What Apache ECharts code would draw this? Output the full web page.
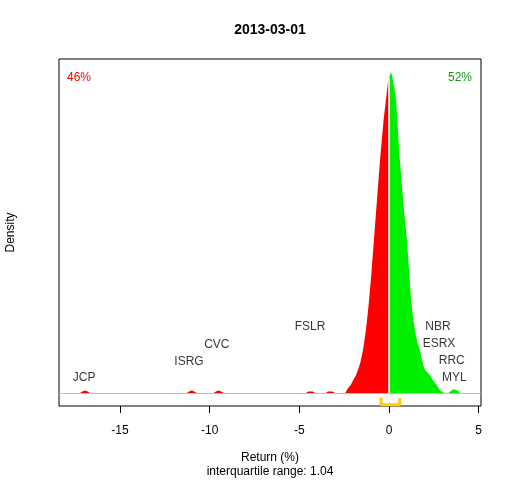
<!DOCTYPE html>
<html>
<head>
<meta charset="utf-8">
<title>2013-03-01</title>
<script src="https://cdn.jsdelivr.net/npm/echarts@6/dist/echarts.min.js"></script>
<style>
  html, body { margin: 0; padding: 0; background: #fff; }
  #main { width: 512px; height: 480px; }
</style>
</head>
<body>
<div id="main"></div>
<script>
// returns (%) and density (scaled so the peak is 1)
var redReturns = [-17.25, -17.1, -16.95, -16.8, -16.65,
  -11.3, -11.15, -11.0, -10.85, -10.7,
  -9.8, -9.65, -9.5, -9.35, -9.2,
  -4.65, -4.5, -4.4, -4.25, -4.1,
  -3.55, -3.4, -3.3, -3.15, -3.0,
  -2.45, -2.35, -2.25, -2.13, -2.0, -1.84, -1.73, -1.6, -1.45, -1.3, -1.2, -1.11, -1.0,
  -0.84, -0.7, -0.55, -0.45, -0.3, -0.17, -0.06, 0];
var redDensity = [0, 0.005, 0.008, 0.005, 0,
  0, 0.005, 0.008, 0.005, 0,
  0, 0.005, 0.008, 0.005, 0,
  0, 0.005, 0.008, 0.005, 0,
  0, 0.005, 0.008, 0.005, 0,
  0, 0.009, 0.018, 0.025, 0.040, 0.056, 0.072, 0.095, 0.134, 0.19, 0.24, 0.29, 0.36,
  0.477, 0.58, 0.69, 0.757, 0.85, 0.913, 0.965, 0.98];

var greenReturns = [0, 0.11, 0.2, 0.3, 0.39, 0.48, 0.56, 0.7, 0.85, 1.0, 1.12, 1.23, 1.35, 1.5, 1.6,
  1.73, 1.85, 1.95, 2.02, 2.15, 2.29, 2.45, 2.66, 2.84, 2.95, 3.1,
  3.3, 3.45, 3.62, 3.8, 3.96, 4.05];
var greenDensity = [0.98, 1.0, 0.98, 0.95, 0.913, 0.84, 0.757, 0.66, 0.56, 0.477, 0.38, 0.29, 0.23, 0.18, 0.155,
  0.134, 0.10, 0.08, 0.072, 0.064, 0.056, 0.040, 0.025, 0.009, 0.003, 0,
  0, 0.007, 0.012, 0.008, 0.001, 0];

// tickers of the outliers, where their names stand
var tickerNames = ['JCP', 'ISRG', 'CVC', 'FSLR', 'NBR', 'ESRX', 'RRC', 'MYL'];
var tickerReturns = [-17.0, -11.15, -9.6, -4.4, 2.73, 2.79, 3.5, 3.65];
var tickerLevels = [0.047, 0.097, 0.150, 0.206, 0.206, 0.153, 0.100, 0.047];

var xTicks = [-15, -10, -5, 0, 5];
var iqrLow = -0.44;
var iqrHigh = 0.60;
var iqrRange = 1.04;
var shareDown = '46%';
var shareUp = '52%';
var medianDensity = 0.98;

var font = "'Liberation Sans', Arial, sans-serif";

function pairs(xs, ys) {
  var res = [];
  for (var i = 0; i < xs.length; i++) {
    res.push([xs[i], ys[i]]);
  }
  return res;
}

var chart = echarts.init(document.getElementById('main'), null, { renderer: 'canvas' });

var option = {
  animation: false,
  backgroundColor: '#fff',
  title: {
    text: '2013-03-01',
    left: 270,
    textAlign: 'center',
    top: 23,
    padding: 0,
    textStyle: { fontFamily: font, fontSize: 14, fontWeight: 'bold', color: '#000' }
  },
  grid: {
    show: true,
    left: 59,
    right: 31,
    top: 59,
    bottom: 74,
    containLabel: false,
    outerBoundsMode: 'none',
    borderColor: '#000',
    borderWidth: 1
  },
  xAxis: {
    type: 'value',
    min: -18.4,
    max: 5.13,
    name: 'Return (%)',
    nameLocation: 'middle',
    nameGap: 46,
    nameTextStyle: { fontFamily: font, fontSize: 12, color: '#000' },
    axisLine: { show: false, onZero: false },
    splitLine: { show: false },
    axisTick: { show: true, length: 7, lineStyle: { color: '#000', width: 1 }, customValues: xTicks },
    axisLabel: { customValues: xTicks, margin: 19, fontFamily: font, fontSize: 12, color: '#000' }
  },
  yAxis: {
    type: 'value',
    min: -0.04,
    max: 1.04,
    name: 'Density',
    nameLocation: 'middle',
    nameRotate: 90,
    nameGap: 42,
    nameTextStyle: { fontFamily: font, fontSize: 12, color: '#000' },
    axisLine: { show: false, onZero: false },
    axisTick: { show: false },
    axisLabel: { show: false },
    splitLine: { show: false }
  },
  graphic: [
    {
      type: 'text', left: 67, top: 72, silent: true,
      style: { text: shareDown, fill: '#FF0000', font: '12px ' + font }
    },
    {
      type: 'text', x: 472, y: 78, silent: true,
      style: { text: shareUp, fill: '#119911', font: '12px ' + font, align: 'right', verticalAlign: 'middle' }
    },
    {
      type: 'text', x: 270, y: 472, silent: true,
      style: { text: 'interquartile range: ' + iqrRange.toFixed(2), fill: '#000', font: '12px ' + font, align: 'center', verticalAlign: 'middle' }
    }
  ],
  series: [
    {
      name: 'down',
      type: 'line',
      data: pairs(redReturns, redDensity),
      showSymbol: false,
      silent: true,
      lineStyle: { width: 0 },
      areaStyle: { color: '#FF0000', opacity: 1 },
      z: 3,
      markLine: {
        silent: true,
        symbol: 'none',
        label: { show: false },
        lineStyle: { color: '#BEBEBE', width: 1, type: 'solid' },
        data: [{ yAxis: 0 }]
      }
    },
    {
      name: 'up',
      type: 'line',
      data: pairs(greenReturns, greenDensity),
      showSymbol: false,
      silent: true,
      lineStyle: { width: 0 },
      areaStyle: { color: '#00EE00', opacity: 1 },
      z: 3
    },
    {
      name: 'zero',
      type: 'line',
      data: [[0, 0], [0, medianDensity]],
      showSymbol: false,
      silent: true,
      lineStyle: { color: '#fff', width: 1.5 },
      z: 4
    },
    {
      name: 'iqr',
      type: 'line',
      data: [[iqrLow, -0.015], [iqrLow, -0.036], [iqrHigh, -0.036], [iqrHigh, -0.015]],
      showSymbol: false,
      silent: true,
      lineStyle: { color: '#FFCC00', width: 3 },
      z: 4
    },
    {
      name: 'tickers',
      type: 'scatter',
      symbolSize: 0,
      silent: true,
      data: tickerNames.map(function (n, i) {
        return { name: n, value: [tickerReturns[i], tickerLevels[i]] };
      }),
      label: {
        show: true,
        position: 'inside',
        formatter: '{b}',
        fontFamily: font,
        fontSize: 12,
        color: '#000'
      },
      z: 5
    }
  ]
};

chart.setOption(option);
</script>
</body>
</html>
